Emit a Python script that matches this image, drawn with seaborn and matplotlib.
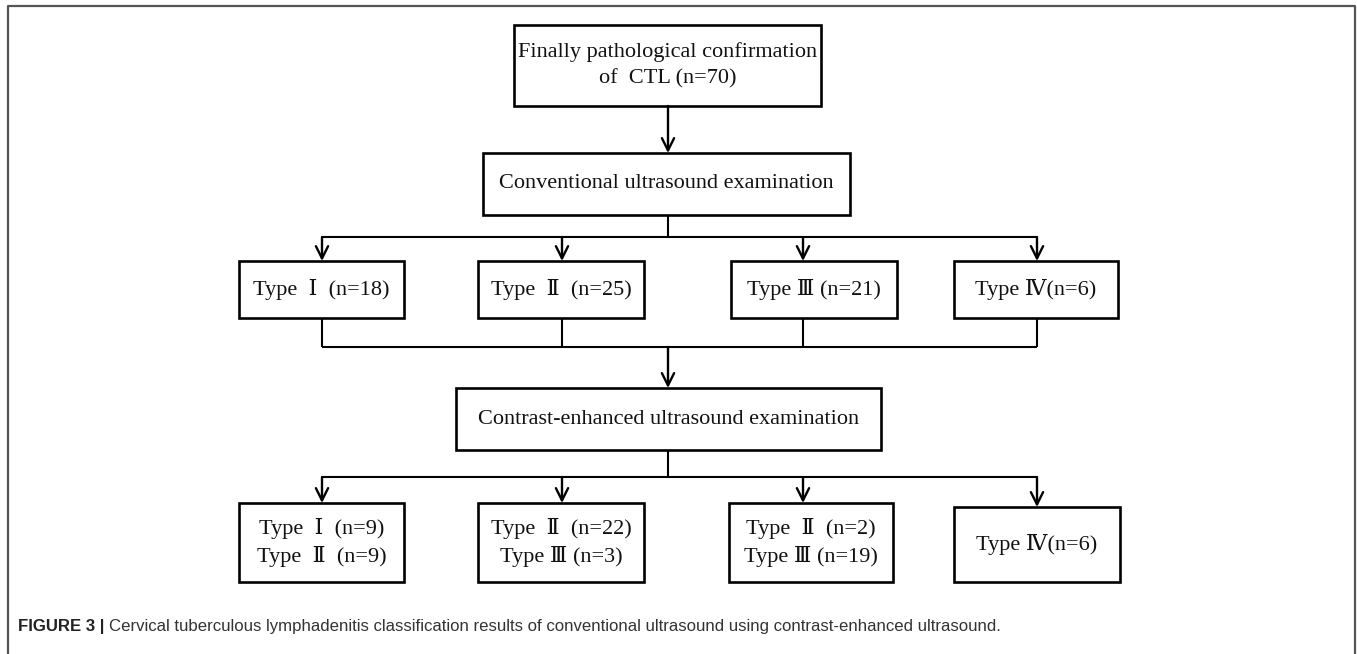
import matplotlib
matplotlib.use("Agg")

import matplotlib.pyplot as plt
import matplotlib.patches as mpatches
import seaborn as sns

# Flowchart content
top_label = "Finally pathological confirmation\nof  CTL (n=70)"
conv_label = "Conventional ultrasound examination"
ceus_label = "Contrast-enhanced ultrasound examination"
conv_types = ["Type  Ⅰ  (n=18)", "Type  Ⅱ  (n=25)", "Type Ⅲ (n=21)", "Type Ⅳ(n=6)"]
ceus_types = ["Type  Ⅰ  (n=9)\nType  Ⅱ  (n=9)",
              "Type  Ⅱ  (n=22)\nType Ⅲ (n=3)",
              "Type  Ⅱ  (n=2)\nType Ⅲ (n=19)",
              "Type Ⅳ(n=6)"]
caption_bold = "FIGURE 3 | "
caption_text = ("Cervical tuberculous lymphadenitis classification results of "
                "conventional ultrasound using contrast-enhanced ultrasound.")

# Layout (pixels, y downward)
W, H = 1357, 654
row2_x = [(239, 404), (478, 644), (731, 897), (954, 1118)]
row3_x = [(239, 404), (478, 644), (729, 893), (954, 1120)]
row3_top = [503, 503, 503, 507]
arrow_x2 = [322, 562, 803, 1037]
arrow_x3 = [322, 562, 803, 1037]

sns.set_theme(style="white")
serif = ["Liberation Serif", "DejaVu Serif"]

fig = plt.figure(figsize=(W / 100, H / 100), dpi=100)
ax = fig.add_axes([0, 0, 1, 1])
ax.set_xlim(0, W)
ax.set_ylim(H, 0)
ax.axis("off")

BOX_LW = 1.9
LINE_LW = 1.5


def box(x0, x1, y0, y1, text, size=16):
    ax.add_patch(mpatches.Rectangle((x0, y0), x1 - x0, y1 - y0, fill=False,
                                    edgecolor="black", lw=BOX_LW))
    ax.text((x0 + x1) / 2, (y0 + y1) / 2, text, ha="center", va="center",
            fontsize=size, family=serif, color="#111111", linespacing=1.45)


def line(xs, ys):
    ax.plot(xs, ys, color="black", lw=LINE_LW, solid_capstyle="butt")


def arrow(x, y0, y1):
    ax.annotate("", xy=(x, y1), xytext=(x, y0),
                arrowprops=dict(arrowstyle="->", color="black", lw=1.7,
                                mutation_scale=22, shrinkA=0, shrinkB=0))


# top two boxes
box(514, 821, 25, 106, top_label)
arrow(668, 106, 153)
box(483, 850, 153, 215, conv_label)

# branch to conventional types
line([668, 668], [215, 237])
line([arrow_x2[0], arrow_x2[-1]], [237, 237])
for ax_x, (x0, x1), lab in zip(arrow_x2, row2_x, conv_types):
    arrow(ax_x, 237, 261)
    box(x0, x1, 261, 318, lab)
    line([ax_x, ax_x], [318, 347])
line([arrow_x2[0], arrow_x2[-1]], [347, 347])

# contrast-enhanced box
arrow(668, 347, 388)
box(456, 881, 388, 450, ceus_label)
line([668, 668], [450, 477])
line([arrow_x3[0], arrow_x3[-1]], [477, 477])
for ax_x, (x0, x1), top, lab in zip(arrow_x3, row3_x, row3_top, ceus_types):
    arrow(ax_x, 477, top)
    box(x0, x1, top, 582, lab)

# outer frame (open at the bottom)
ax.plot([8, 8, 1355, 1355], [H, 6, 6, H], color="#555555", lw=1.6)

# caption
t1 = ax.text(18, 627, caption_bold, ha="left", va="center", fontsize=12.1,
             family="Liberation Sans", weight="bold", color="#222222")
fig.canvas.draw()
bb = t1.get_window_extent()
x_next = ax.transData.inverted().transform((bb.x1, bb.y0))[0]
ax.text(x_next, 627, caption_text, ha="left", va="center", fontsize=12.1,
        family="Liberation Sans", color="#333333")

fig.savefig("out.png", dpi=100, facecolor="white")
